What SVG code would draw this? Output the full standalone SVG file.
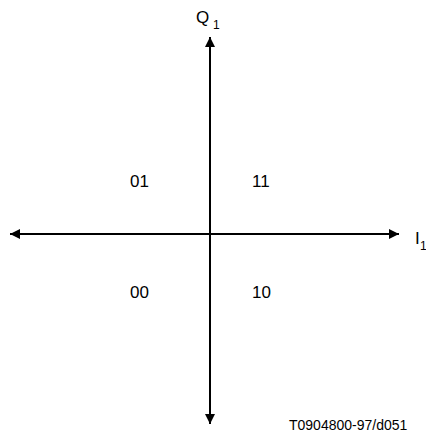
<svg xmlns="http://www.w3.org/2000/svg" width="426" height="434" viewBox="0 0 426 434">
<style>
text{font-family:"Liberation Sans",Arial,sans-serif;fill:#000}
.lbl{font-size:17px}
.sub{font-size:12px}
.axis{stroke:#000;stroke-width:2;fill:none}
</style>
<defs>
<marker id="ah" viewBox="0 0 10 10" refX="10" refY="5" markerWidth="14" markerHeight="10" markerUnits="userSpaceOnUse" orient="auto">
<path d="M0,0 L10,5 L0,10 Z" fill="#000"/>
</marker>
</defs>
<rect width="426" height="434" fill="#fff"/>
<g id="connectors">
<line class="axis" x1="210" y1="234" x2="210" y2="37" marker-end="url(#ah)"/>
<line class="axis" x1="210" y1="234" x2="210" y2="424" marker-end="url(#ah)"/>
<line class="axis" x1="210" y1="234" x2="10" y2="234" marker-end="url(#ah)"/>
<line class="axis" x1="210" y1="234" x2="399" y2="234" marker-end="url(#ah)"/>
</g>
<g id="Q1"><text class="lbl" x="196" y="23">Q</text><text class="sub" x="213" y="29">1</text></g>
<g id="I1"><text class="lbl" x="415" y="244">I</text><text class="sub" x="420" y="250">1</text></g>
<g id="q01"><text class="lbl" x="130" y="187">01</text></g>
<g id="q11"><text class="lbl" x="252" y="187">11</text></g>
<g id="q00"><text class="lbl" x="130" y="298">00</text></g>
<g id="q10"><text class="lbl" x="252" y="298">10</text></g>
<g id="ref"><text x="289" y="430" font-size="14">T0904800-97/d051</text></g>
</svg>
